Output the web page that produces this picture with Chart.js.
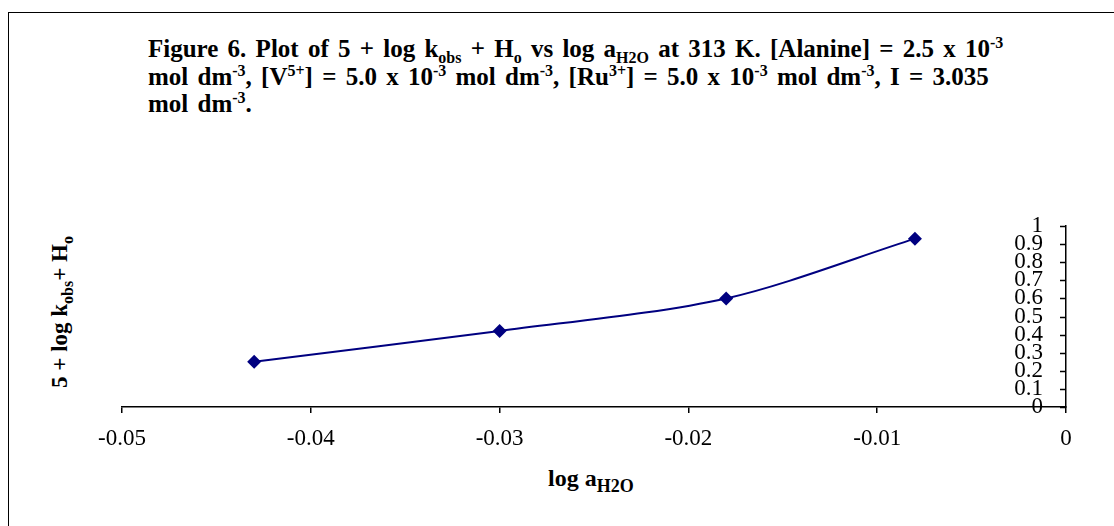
<!DOCTYPE html>
<html>
<head>
<meta charset="utf-8">
<script src="https://cdn.jsdelivr.net/npm/chart.js@4"></script>
<style>
  html, body { margin: 0; padding: 0; background: #fff; }
  #wrap { position: relative; width: 1114px; height: 526px; overflow: hidden; font-family: "Liberation Serif", "Times New Roman", serif; }
  #frame { position: absolute; left: 8px; top: 12px; width: 1200px; height: 600px; border-left: 1.5px solid #000; border-top: 1.5px solid #000; }
  #caption { position: absolute; left: 148px; top: 35px; font-weight: bold; font-size: 25px; line-height: 27.5px; word-spacing: 3px; color: #000; white-space: nowrap; }
  #caption sup, #caption sub { font-size: 16px; line-height: 0; }
  .ttl { position: absolute; font-weight: bold; font-size: 23px; color: #000; white-space: nowrap; }
  .ttl sub { font-size: 16px; line-height: 0; }
  #xtitle { left: 548px; top: 465px; font-size: 24px; }
  #xtitle sub { font-size: 18px; }
  #ytitle { left: 60px; top: 312px; transform: translate(-50%, -50%) rotate(-90deg); }
  canvas { position: absolute; left: 0; top: 0; }
</style>
</head>
<body>
<div id="wrap">
  <div id="frame"></div>
  <div id="caption">Figure 6. Plot of 5 + log k<sub>obs</sub> + H<sub>o</sub> vs log a<sub>H2O</sub> at 313 K. [Alanine] = 2.5 x 10<sup>-3</sup><br>mol dm<sup>-3</sup>, [V<sup>5+</sup>] = 5.0 x 10<sup>-3</sup> mol dm<sup>-3</sup>, [Ru<sup>3+</sup>] = 5.0 x 10<sup>-3</sup> mol dm<sup>-3</sup>, I = 3.035<br>mol dm<sup>-3</sup>.</div>
  <div class="ttl" id="ytitle">5 + log k<sub>obs</sub>+ H<sub>o</sub></div>
  <div class="ttl" id="xtitle">log a<sub>H2O</sub></div>
  <canvas id="chart" width="1114" height="526"></canvas>
</div>
<script>
const logAH2O = [-0.043, -0.03, -0.018, -0.008];
const logK = [0.25, 0.42, 0.6, 0.93];
const xTicks = [-0.05, -0.04, -0.03, -0.02, -0.01, 0];
const yTicks = [0, 0.1, 0.2, 0.3, 0.4, 0.5, 0.6, 0.7, 0.8, 0.9, 1];

// y tick marks drawn inward (left of the right-hand axis)
const innerTicks = {
  id: 'innerTicks',
  afterDraw(chart) {
    const ctx = chart.ctx, y = chart.scales.y;
    ctx.save();
    ctx.strokeStyle = '#000';
    ctx.lineWidth = 1.5;
    ctx.beginPath();
    yTicks.forEach(v => {
      const py = Math.round(y.getPixelForValue(v)) + 0.5;
      ctx.moveTo(y.left - 6, py);
      ctx.lineTo(y.left, py);
    });
    ctx.stroke();
    ctx.restore();
  }
};

new Chart(document.getElementById('chart'), {
  type: 'line',
  data: {
    datasets: [{
      data: logAH2O.map((x, i) => ({x: x, y: logK[i]})),
      borderColor: '#000080',
      backgroundColor: '#000080',
      borderWidth: 2,
      tension: 0.3,
      pointStyle: 'rectRot',
      pointRadius: 7,
      pointBorderWidth: 0
    }]
  },
  options: {
    responsive: false, animation: false,
    layout: { padding: { left: 122, top: 226, right: 38, bottom: 69 } },
    plugins: { legend: { display: false }, tooltip: { enabled: false } },
    scales: {
      x: {
        type: 'linear', min: -0.05, max: 0,
        afterBuildTicks: s => { s.ticks = xTicks.map(v => ({value: v})); },
        afterFit: s => { s.height = 50; },
        grid: { drawOnChartArea: false, tickLength: 6, color: '#000', lineWidth: 1.5 },
        border: { display: true, color: '#000', width: 1.5 },
        ticks: {
          padding: 12, color: '#000', autoSkip: false, maxRotation: 0,
          font: { family: 'Liberation Serif', size: 23 },
          callback: v => v === 0 ? '0' : v.toFixed(2)
        }
      },
      y: {
        type: 'linear', position: 'right', min: 0, max: 1,
        afterBuildTicks: s => { s.ticks = yTicks.map(v => ({value: v})); },
        afterFit: s => { s.width = 10; },
        grid: { display: false },
        border: { display: true, color: '#000', width: 1.5 },
        ticks: {
          mirror: true, padding: -23, color: '#000', autoSkip: false,
          font: { family: 'Liberation Serif', size: 23 },
          callback: v => String(+v.toFixed(1))
        }
      }
    }
  },
  plugins: [innerTicks]
});
</script>
</body>
</html>
